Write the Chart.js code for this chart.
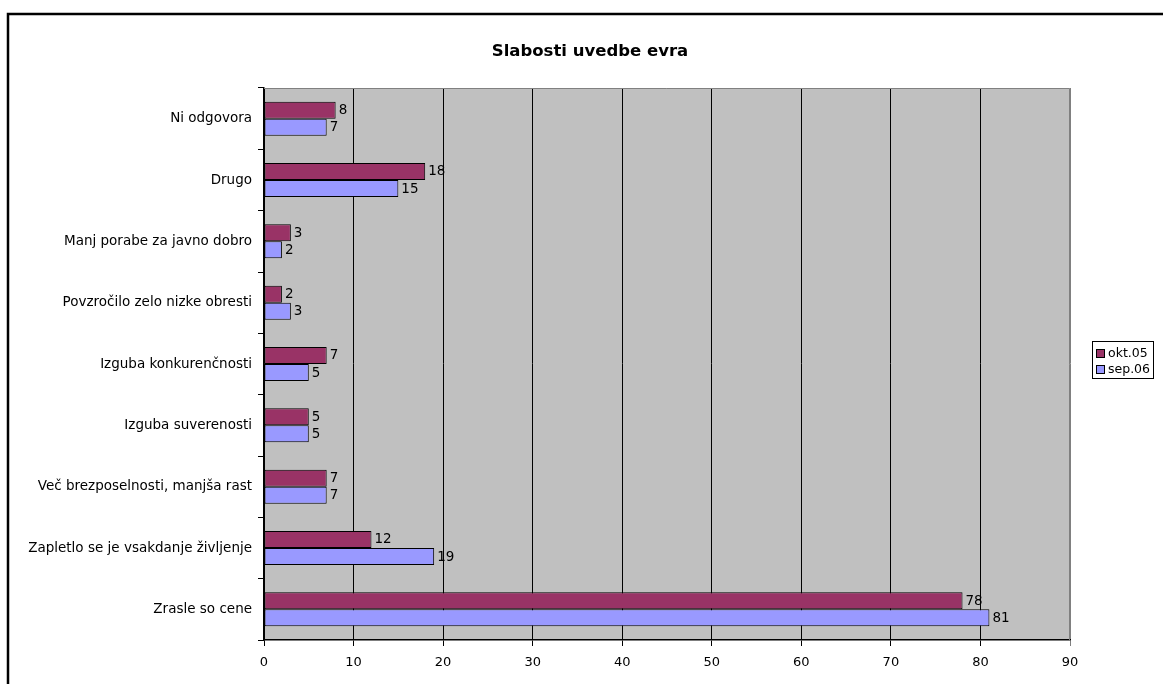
<!DOCTYPE html>
<html>
<head>
<meta charset="utf-8">
<script src="https://cdn.jsdelivr.net/npm/chart.js@4/dist/chart.umd.min.js"></script>
<style>
  html, body { margin: 0; padding: 0; background: #fff; }
  #wrap { width: 1163px; height: 684px; }
</style>
</head>
<body>
<div id="wrap"><canvas id="chart" width="1163" height="684"></canvas></div>
<script>
const categories = [
    "Ni odgovora",
    "Drugo",
    "Manj porabe za javno dobro",
    "Povzročilo zelo nizke obresti",
    "Izguba konkurenčnosti",
    "Izguba suverenosti",
    "Več brezposelnosti, manjša rast",
    "Zapletlo se je vsakdanje življenje",
    "Zrasle so cene"
];
const okt05 = [8, 18, 3, 2, 7, 5, 7, 12, 78];
const sep06 = [7, 15, 2, 3, 5, 5, 7, 19, 81];
const seriesNames = ["okt.05", "sep.06"];
const seriesColors = ["#993366", "#9999FF"];
const xTicks = [0, 10, 20, 30, 40, 50, 60, 70, 80, 90];
const chartTitle = "Slabosti uvedbe evra";

const FONT = "'DejaVu Sans', Verdana, sans-serif";

// frame, grey plot area and the title
const backdrop = {
    id: 'backdrop',
    beforeDraw(chart) {
        const {ctx, chartArea: a} = chart;
        ctx.save();
        ctx.fillStyle = "#C0C0C0";
        ctx.fillRect(a.left, a.top, a.right - a.left, a.bottom - a.top);
        ctx.strokeStyle = "#000";
        ctx.lineWidth = 2.5;
        ctx.strokeRect(8, 14, 1300, 900);
        ctx.fillStyle = "#000";
        ctx.font = "bold 16.5px " + FONT;
        ctx.textAlign = "center";
        ctx.textBaseline = "middle";
        ctx.fillText(chartTitle, 590, 52);
        ctx.restore();
    },
    afterDraw(chart) {
        const {ctx, chartArea: a} = chart;
        ctx.save();
        ctx.strokeStyle = "#808080";
        ctx.lineWidth = 1;
        ctx.beginPath();
        ctx.moveTo(a.left, a.top + 0.5);
        ctx.lineTo(a.right - 0.5, a.top + 0.5);
        ctx.lineTo(a.right - 0.5, a.bottom);
        ctx.stroke();
        ctx.restore();
    }
};

// value labels at bar ends
const valueLabels = {
    id: 'valueLabels',
    afterDatasetsDraw(chart) {
        const {ctx} = chart;
        ctx.save();
        ctx.font = "13.5px " + FONT;
        ctx.fillStyle = "#000";
        ctx.textAlign = "left";
        ctx.textBaseline = "middle";
        chart.data.datasets.forEach((ds, i) => {
            chart.getDatasetMeta(i).data.forEach((bar, j) => {
                ctx.fillText(ds.data[j], bar.x + 3, bar.y + 0.5);
            });
        });
        ctx.restore();
    }
};

// Excel-style boxed legend
const boxLegend = {
    id: 'boxLegend',
    afterDraw(chart) {
        const {ctx} = chart;
        const x = 1092, y = 341, w = 61, h = 37;
        ctx.save();
        ctx.fillStyle = "#fff";
        ctx.fillRect(x, y, w, h);
        ctx.strokeStyle = "#000";
        ctx.lineWidth = 1;
        ctx.strokeRect(x + 0.5, y + 0.5, w, h);
        ctx.font = "12.5px " + FONT;
        ctx.textBaseline = "middle";
        ctx.textAlign = "left";
        chart.data.datasets.forEach((ds, i) => {
            const cy = y + 12 + i * 16;
            ctx.fillStyle = ds.backgroundColor;
            ctx.fillRect(x + 4, cy - 4, 9, 9);
            ctx.strokeStyle = "#000";
            ctx.strokeRect(x + 4.5, cy - 3.5, 8, 8);
            ctx.fillStyle = "#000";
            ctx.fillText(ds.label, x + 16, cy + 0.5);
        });
        ctx.restore();
    }
};

new Chart(document.getElementById('chart'), {
    type: 'bar',
    data: {
        labels: categories,
        datasets: [
            { label: seriesNames[0], data: okt05, backgroundColor: seriesColors[0] },
            { label: seriesNames[1], data: sep06, backgroundColor: seriesColors[1] }
        ]
    },
    options: {
        indexAxis: 'y',
        responsive: false,
        animation: false,
        layout: { padding: { left: 0, right: 93, top: 88, bottom: 0 } },
        datasets: {
            bar: {
                borderColor: "#000",
                borderWidth: 1,
                borderSkipped: false,
                categoryPercentage: 0.555,
                barPercentage: 1.0
            }
        },
        plugins: {
            legend: { display: false },
            tooltip: { enabled: false },
            title: { display: false }
        },
        scales: {
            x: {
                min: 0,
                max: 90,
                afterBuildTicks(scale) { scale.ticks = xTicks.map(v => ({value: v})); },
                afterFit(scale) { scale.height = 44; },
                ticks: { color: "#000", font: { family: FONT, size: 13 }, padding: 9 },
                grid: {
                    color: ctx => ctx.tick && ctx.tick.value === 90 ? "#808080" : "#000",
                    lineWidth: 1,
                    tickLength: 6
                },
                border: { color: "#000", width: 1.5 }
            },
            y: {
                afterFit(scale) { scale.width = 264; },
                ticks: { color: "#000", font: { family: FONT, size: 13.5 }, padding: 6, autoSkip: false },
                grid: { drawOnChartArea: false, drawTicks: true, tickLength: 6, color: "#000", offset: true },
                border: { color: "#000", width: 1.5 }
            }
        }
    },
    plugins: [backdrop, valueLabels, boxLegend]
});
</script>
</body>
</html>
